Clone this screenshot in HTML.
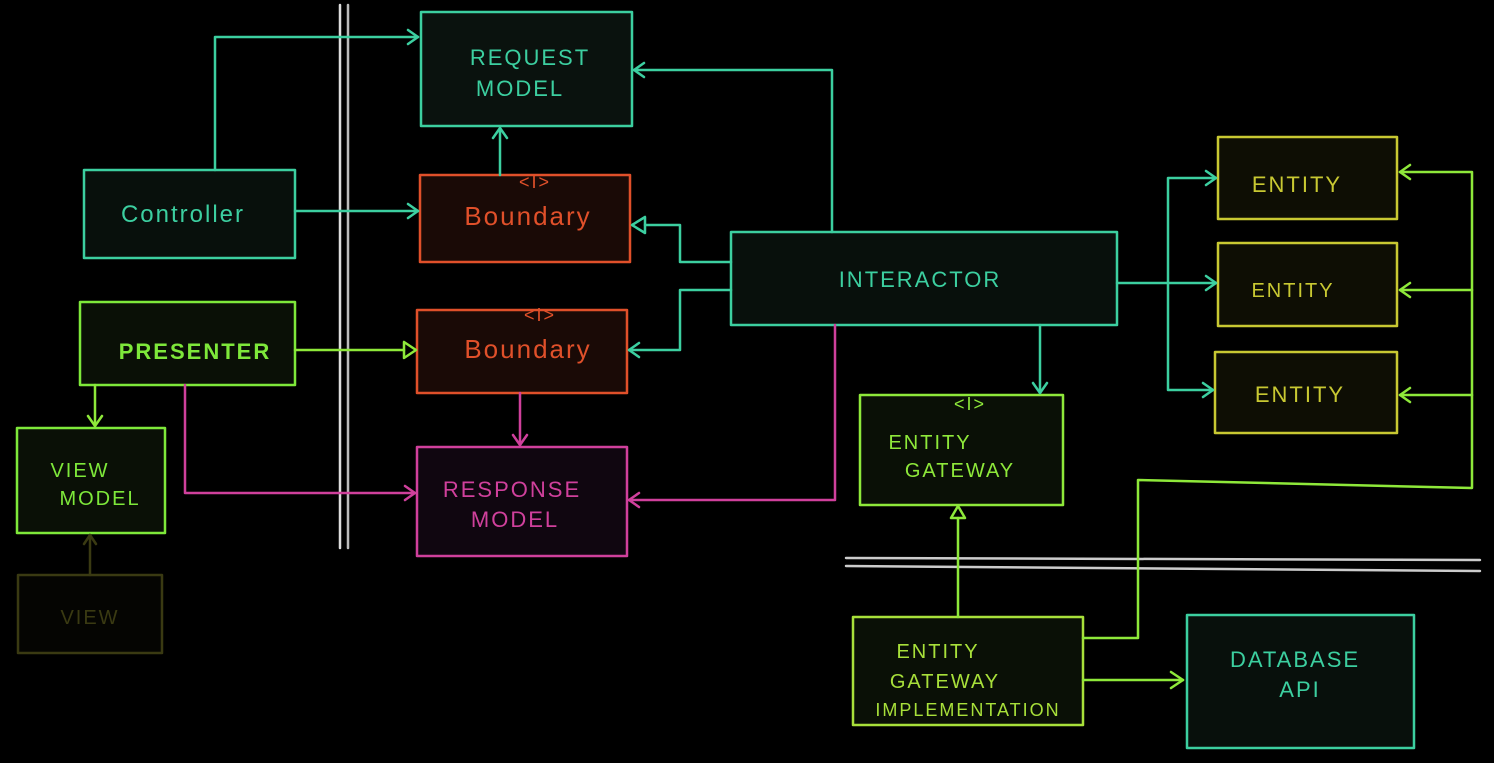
<!DOCTYPE html>
<html><head><meta charset="utf-8"><style>
html,body{margin:0;padding:0;background:#000;}
svg{display:block}
text{font-family:"Liberation Sans",sans-serif;letter-spacing:2px;}
</style></head><body>
<svg width="1494" height="763" viewBox="0 0 1494 763" xmlns="http://www.w3.org/2000/svg">
<rect width="1494" height="763" fill="#000"/>
<g fill="none" stroke-width="2.5" stroke-linejoin="round" stroke-linecap="round">
<!-- divider lines -->
<line x1="340" y1="5" x2="340" y2="548" stroke="#ddd"/>
<line x1="348" y1="5" x2="348" y2="548" stroke="#bbb"/>
<line x1="846" y1="558" x2="1480" y2="560" stroke="#ccc"/>
<line x1="846" y1="566" x2="1480" y2="571" stroke="#ccc"/>

<!-- boxes -->
<rect x="421" y="12" width="211" height="114" stroke="#3ccfa0" fill="#0a120e"/>
<rect x="420" y="175" width="210" height="87" stroke="#e0502a" fill="#1a0a06"/>
<rect x="84" y="170" width="211" height="88" stroke="#3ccfa0" fill="#08100c"/>
<rect x="80" y="302" width="215" height="83" stroke="#7ee83a" fill="#0a1006"/>
<rect x="417" y="310" width="210" height="83" stroke="#e0502a" fill="#1a0a06"/>
<rect x="17" y="428" width="148" height="105" stroke="#7ee83a" fill="#0a1006"/>
<rect x="18" y="575" width="144" height="78" stroke="#3a3a12" fill="#050502"/>
<rect x="417" y="447" width="210" height="109" stroke="#d0409c" fill="#100610"/>
<rect x="731" y="232" width="386" height="93" stroke="#3ccfa0" fill="#08100c"/>
<rect x="860" y="395" width="203" height="110" stroke="#8ee83a" fill="#0a1006"/>
<rect x="1218" y="137" width="179" height="82" stroke="#c8c832" fill="#0e0e04"/>
<rect x="1218" y="243" width="179" height="83" stroke="#c8c832" fill="#0e0e04"/>
<rect x="1215" y="352" width="182" height="81" stroke="#c8c832" fill="#0e0e04"/>
<rect x="853" y="617" width="230" height="108" stroke="#a8e03a" fill="#0a1006"/>
<rect x="1187" y="615" width="227" height="133" stroke="#3ccfa0" fill="#08100c"/>

<!-- teal connectors -->
<g stroke="#3ccfa0">
<polyline points="215,170 215,37 418,37"/><polyline points="408,30 418,37 408,44"/>
<line x1="295" y1="211" x2="418" y2="211"/><polyline points="408,204 418,211 408,218"/>
<line x1="500" y1="175" x2="500" y2="128"/><polyline points="493,138 500,128 507,138"/>
<polyline points="832,232 832,70 634,70"/><polyline points="644,63 634,70 644,77"/>
<polyline points="731,262 680,262 680,225 645,225"/><polygon points="645,217 645,233 632,225"/>
<polyline points="731,290 680,290 680,350 629,350"/><polyline points="639,343 629,350 639,357"/>
<line x1="1040" y1="325" x2="1040" y2="393"/><polyline points="1033,383 1040,393 1047,383"/>
<polyline points="1117,283 1216,283"/><polyline points="1206,276 1216,283 1206,290"/>
<polyline points="1168,283 1168,178 1216,178"/><polyline points="1206,171 1216,178 1206,185"/>
<polyline points="1168,283 1168,390 1213,390"/><polyline points="1203,383 1213,390 1203,397"/>
</g>
<!-- green connectors -->
<g stroke="#8ee83a">
<line x1="295" y1="350" x2="404" y2="350"/><polygon points="404,342 404,358 416,350"/>
<line x1="95" y1="385" x2="95" y2="426"/><polyline points="88,416 95,426 102,416"/>
<line x1="958" y1="617" x2="958" y2="518"/><polygon points="951,518 965,518 958,506"/>
<line x1="1083" y1="680" x2="1183" y2="680"/><polyline points="1171,672 1183,680 1171,688"/>
<polyline points="1083,638 1138,638 1138,480 1472,488 1472,172 1400,172"/><polyline points="1410,165 1400,172 1410,179"/>
<line x1="1472" y1="290" x2="1400" y2="290"/><polyline points="1410,283 1400,290 1410,297"/>
<line x1="1472" y1="395" x2="1400" y2="395"/><polyline points="1410,388 1400,395 1410,402"/>
</g>
<g stroke="#3a3a12"><line x1="90" y1="575" x2="90" y2="535"/><polyline points="84,544 90,535 96,544"/></g>
<!-- magenta connectors -->
<g stroke="#d0409c">
<polyline points="185,385 185,493 415,493"/><polyline points="405,486 415,493 405,500"/>
<line x1="520" y1="393" x2="520" y2="445"/><polyline points="513,435 520,445 527,435"/>
<polyline points="835,325 835,500 629,500"/><polyline points="639,493 629,500 639,507"/>
</g>
</g>

<!-- labels -->
<g font-size="22" text-anchor="middle">
<text x="530" y="65" fill="#3ccfa0">REQUEST</text>
<text x="520" y="96" fill="#3ccfa0">MODEL</text>
<text x="535" y="188" fill="#e0502a" font-size="18">&lt;I&gt;</text>
<text x="528" y="225" fill="#e0502a" font-size="26" letter-spacing="1">Boundary</text>
<text x="183" y="222" fill="#3ccfa0" font-size="24" letter-spacing="1">Controller</text>
<text x="195" y="359" fill="#7ee83a" font-weight="bold">PRESENTER</text>
<text x="540" y="321" fill="#e0502a" font-size="18">&lt;I&gt;</text>
<text x="528" y="358" fill="#e0502a" font-size="26" letter-spacing="1">Boundary</text>
<text x="80" y="477" fill="#7ee83a" font-size="20">VIEW</text>
<text x="100" y="505" fill="#7ee83a" font-size="20">MODEL</text>
<text x="90" y="624" fill="#3a3a12" font-size="20">VIEW</text>
<text x="512" y="497" fill="#d0409c">RESPONSE</text>
<text x="515" y="527" fill="#d0409c">MODEL</text>
<text x="920" y="287" fill="#3ccfa0">INTERACTOR</text>
<text x="970" y="410" fill="#8ee83a" font-size="18">&lt;I&gt;</text>
<text x="930" y="449" fill="#8ee83a" font-size="20">ENTITY</text>
<text x="960" y="477" fill="#8ee83a" font-size="20">GATEWAY</text>
<text x="1297" y="192" fill="#c8c832">ENTITY</text>
<text x="1293" y="297" fill="#c8c832" font-size="20">ENTITY</text>
<text x="1300" y="402" fill="#c8c832">ENTITY</text>
<text x="938" y="658" fill="#a8e03a" font-size="20">ENTITY</text>
<text x="945" y="688" fill="#a8e03a" font-size="20">GATEWAY</text>
<text x="968" y="716" fill="#a8e03a" font-size="18" letter-spacing="0">IMPLEMENTATION</text>
<text x="1295" y="667" fill="#3ccfa0">DATABASE</text>
<text x="1300" y="697" fill="#3ccfa0">API</text>
</g>
</svg>
</body></html>
